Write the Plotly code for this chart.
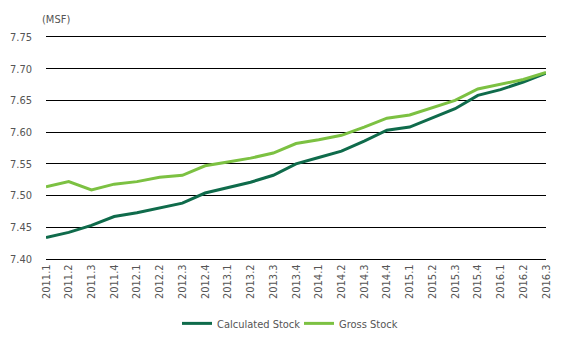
import plotly.graph_objects as go

quarters = ["2011.1", "2011.2", "2011.3", "2011.4", "2012.1", "2012.2", "2012.3", "2012.4",
            "2013.1", "2013.2", "2013.3", "2013.4", "2014.1", "2014.2", "2014.3", "2014.4",
            "2015.1", "2015.2", "2015.3", "2015.4", "2016.1", "2016.2", "2016.3"]

calculated_stock = [7.434, 7.442, 7.453, 7.467, 7.473, 7.481, 7.488, 7.504,
                    7.512, 7.521, 7.532, 7.550, 7.560, 7.570, 7.586, 7.603,
                    7.608, 7.622, 7.637, 7.658, 7.667, 7.679, 7.693]

gross_stock = [7.514, 7.522, 7.509, 7.518, 7.522, 7.529, 7.532, 7.547,
               7.553, 7.559, 7.567, 7.582, 7.588, 7.595, 7.608, 7.622,
               7.627, 7.639, 7.650, 7.668, 7.675, 7.683, 7.694]

y_ticks = [7.40, 7.45, 7.50, 7.55, 7.60, 7.65, 7.70, 7.75]

FONT = "Liberation Sans Narrow, DejaVu Sans Condensed, Arial Narrow, sans-serif"
TEXT = "#555555"

fig = go.Figure()
fig.add_trace(go.Scatter(x=quarters, y=calculated_stock, mode="lines", name="Calculated Stock",
                         line=dict(color="#0f6b4b", width=3)))
fig.add_trace(go.Scatter(x=quarters, y=gross_stock, mode="lines", name="Gross Stock",
                         line=dict(color="#7cc142", width=3)))

fig.update_layout(
    width=563, height=348,
    margin=dict(l=43, r=10, t=37, b=88),
    paper_bgcolor="white", plot_bgcolor="white",
    font=dict(family=FONT, size=11, color=TEXT),
    showlegend=True,
    legend=dict(orientation="h", x=0.262, xanchor="left", y=-0.29, yanchor="middle",
                entrywidth=77, font=dict(size=11, color=TEXT)),
    annotations=[dict(text="(MSF)", xref="paper", yref="paper", x=-0.012, y=1.08,
                      xanchor="left", yanchor="middle", showarrow=False,
                      font=dict(size=11, color=TEXT))],
)
fig.update_xaxes(type="category", tickangle=-90, showgrid=False, showline=True,
                 linecolor="#000000", linewidth=1, mirror=True,
                 zeroline=False, ticks="", tickfont=dict(size=11, color=TEXT))
fig.update_yaxes(range=[7.40, 7.75], tickvals=y_ticks, ticktext=[f"{v:.2f}" for v in y_ticks],
                 showgrid=True, gridcolor="#000000", gridwidth=1, zeroline=False,
                 showline=False, ticks="", ticklabelstandoff=13,
                 tickfont=dict(size=11, color=TEXT))

fig.write_html("out.html")
